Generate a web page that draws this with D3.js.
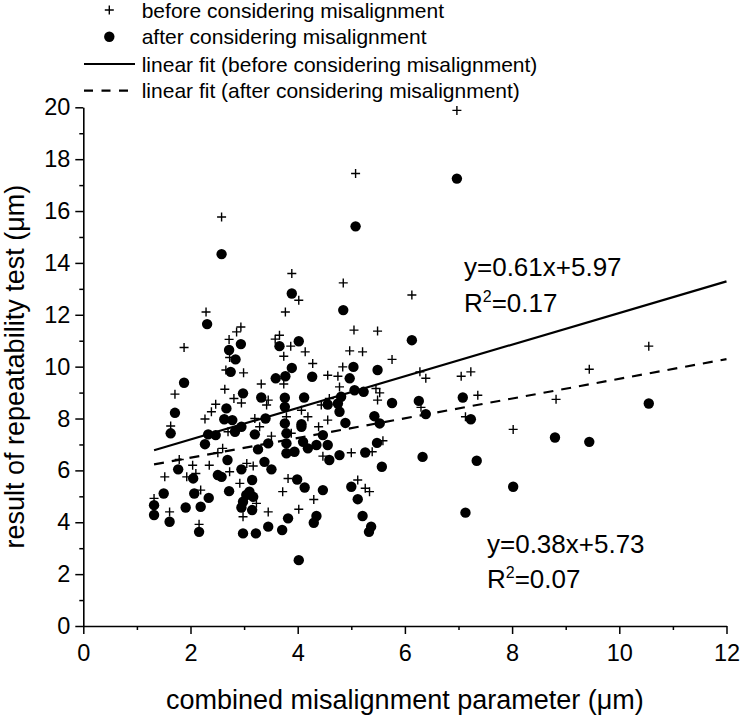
<!DOCTYPE html>
<html>
<head>
<meta charset="utf-8">
<script src="https://cdn.jsdelivr.net/npm/d3@7"></script>
<style>
  html, body { margin: 0; padding: 0; background: #fff; }
  svg { display: block; }
  text { font-family: "Liberation Sans", Arial, Helvetica, sans-serif; fill: #000; }
</style>
</head>
<body>
<svg id="chart" width="740" height="716"></svg>
<script>
// ---------- data ----------
const beforeX = [2.29,1.88,1.71,1.63,2.72,2.86,2.94,2.66,2.99,2.64,2.81,2.95,2.47,2.39,2.27,2.73,2.70,2.60,2.51,1.79,2.04,2.35,1.52,1.93,2.10,2.73,2.92,3.05,2.19,1.32,1.61,2.16,2.98,3.89,4.85,4.02,3.77,5.05,5.49,3.66,3.58,3.87,4.14,3.74,4.97,5.21,5.76,4.28,4.84,4.56,4.75,3.32,3.74,4.78,5.46,5.53,3.45,3.42,5.49,4.59,4.44,4.07,4.19,3.20,3.79,4.56,3.29,4.39,3.51,3.88,4.47,5.00,5.39,5.59,3.17,3.82,3.72,4.30,5.12,5.26,5.34,3.23,3.45,4.02,5.08,2.58,6.97,6.13,6.28,6.39,7.05,7.23,6.30,7.36,7.13,8.82,8.02,9.44,10.55];
const beforeY = [12.11,10.74,8.94,7.71,11.05,11.34,11.53,9.87,9.76,9.13,8.77,8.60,8.55,8.26,7.98,10.35,7.49,6.85,6.68,6.42,6.20,6.20,5.75,5.75,5.88,5.95,5.50,6.27,5.24,4.92,4.40,3.92,4.21,13.59,13.23,12.56,12.11,11.41,11.37,11.21,11.06,10.79,10.57,10.40,10.61,10.57,10.28,10.12,9.99,9.67,9.63,9.33,9.33,9.22,9.16,8.99,8.71,8.52,8.71,8.77,8.52,8.32,8.07,8.00,8.07,7.94,7.68,7.68,7.32,7.43,6.55,6.68,6.72,7.14,6.17,5.69,5.18,4.88,5.63,5.31,5.18,4.73,4.40,4.50,17.45,15.77,19.88,12.76,9.80,9.55,9.63,9.80,8.43,8.90,8.07,8.74,7.58,9.90,10.79];

const afterX = [2.31,1.88,1.71,1.63,2.94,2.72,2.84,2.75,2.98,2.67,2.63,2.78,2.33,2.47,2.83,2.95,2.27,2.69,1.77,2.05,2.51,2.58,2.95,1.50,2.07,2.34,2.72,1.32,1.32,1.61,1.91,2.19,2.16,2.98,2.95,2.98,3.04,3.89,4.85,4.02,3.66,3.89,3.59,3.77,4.27,5.04,4.97,5.49,5.06,5.23,4.81,3.32,3.76,4.12,4.56,4.75,4.78,3.76,5.76,5.43,5.53,3.40,3.76,4.07,4.89,3.20,3.79,4.07,4.47,3.45,3.79,3.79,4.10,4.35,4.56,3.26,3.94,4.19,4.59,4.78,5.26,5.48,5.57,3.38,3.51,3.15,3.99,4.13,4.47,5.00,5.12,3.10,3.17,3.15,4.35,4.30,3.82,5.21,5.37,5.33,3.45,3.71,3.22,4.02,5.08,2.58,6.97,6.13,6.26,6.39,7.08,7.23,8.80,6.33,7.34,8.02,7.13,9.44,10.55];
const afterY = [11.64,9.38,8.22,7.43,10.87,10.64,10.28,9.80,8.97,8.39,7.97,7.94,7.39,7.36,7.49,7.68,7.01,6.40,6.04,5.69,5.82,5.75,6.04,5.11,5.11,4.94,5.20,4.66,4.28,4.02,4.57,4.60,3.63,3.57,4.57,4.79,5.05,12.82,12.18,10.98,10.79,9.95,9.55,9.63,9.61,9.99,9.55,9.87,9.09,9.03,8.84,8.81,8.80,8.81,8.54,8.58,8.26,8.45,8.60,8.09,7.81,8.00,7.81,7.78,7.83,7.39,7.43,7.68,7.36,7.04,7.04,6.66,7.10,6.98,6.98,6.81,6.72,6.85,6.40,6.59,6.69,7.06,6.14,6.33,6.04,5.63,5.65,5.34,5.24,5.37,4.89,5.18,4.98,4.47,4.24,3.98,4.15,4.24,3.83,3.63,3.83,3.70,3.57,2.54,15.41,14.34,17.25,11.02,8.68,8.17,8.81,7.97,7.27,6.52,6.37,5.37,4.37,7.10,8.58];

const fitSlope = [0.61, 0.38];
const fitIntercept = [5.97, 5.73];
const fitR2 = ["0.17", "0.07"];
const fitXStart = 1.32;
const fitXEnd = 12;

const legendLabels = [
  "before considering misalignment",
  "after considering misalignment",
  "linear fit (before considering misalignment)",
  "linear fit (after considering misalignment)"
];
const xTicks = [0, 2, 4, 6, 8, 10, 12];
const yTicks = [0, 2, 4, 6, 8, 10, 12, 14, 16, 18, 20];
const xMinor = [1, 3, 5, 7, 9, 11];
const yMinor = [1, 3, 5, 7, 9, 11, 13, 15, 17, 19];
const xTitle = "combined misalignment parameter (\u03BCm)";
const yTitle = "result of repeatability test (\u03BCm)";

// ---------- layout ----------
const svg = d3.select("#chart");
const x = d3.scaleLinear().domain([0, 12]).range([83.3, 726.5]);
const y = d3.scaleLinear().domain([0, 20]).range([626, 107.3]);

const tickFont = 23.5;

// minor ticks
const xMinorAxis = d3.axisBottom(x).tickValues(xMinor).tickSize(4).tickFormat("").tickSizeOuter(0);
const yMinorAxis = d3.axisLeft(y).tickValues(yMinor).tickSize(4).tickFormat("").tickSizeOuter(0);
svg.append("g").attr("transform", `translate(0,${y(0)})`).call(xMinorAxis)
  .call(g => g.select(".domain").remove())
  .call(g => g.selectAll("line").attr("stroke", "#000").attr("stroke-width", 1.5));
svg.append("g").attr("transform", `translate(${x(0)},0)`).call(yMinorAxis)
  .call(g => g.select(".domain").remove())
  .call(g => g.selectAll("line").attr("stroke", "#000").attr("stroke-width", 1.5));

// major axes
const xAxis = d3.axisBottom(x).tickValues(xTicks).tickSize(8).tickPadding(10).tickSizeOuter(0).tickFormat(d3.format("d"));
const yAxis = d3.axisLeft(y).tickValues(yTicks).tickSize(8).tickPadding(5).tickSizeOuter(0).tickFormat(d3.format("d"));

svg.append("g").attr("transform", `translate(0,${y(0)})`).call(xAxis)
  .call(g => g.select(".domain").attr("stroke", "#000").attr("stroke-width", 1.6))
  .call(g => g.selectAll("line").attr("stroke", "#000").attr("stroke-width", 1.5))
  .call(g => g.selectAll("text").attr("font-size", tickFont).attr("font-family", "Liberation Sans, Arial, sans-serif").attr("fill", "#000"));

svg.append("g").attr("transform", `translate(${x(0)},0)`).call(yAxis)
  .call(g => g.select(".domain").attr("stroke", "#000").attr("stroke-width", 1.6))
  .call(g => g.selectAll("line").attr("stroke", "#000").attr("stroke-width", 1.5))
  .call(g => g.selectAll("text").attr("font-size", tickFont).attr("font-family", "Liberation Sans, Arial, sans-serif").attr("fill", "#000"));

// axis titles
svg.append("text")
  .attr("x", (x(0) + x(12)) / 2).attr("y", 709)
  .attr("text-anchor", "middle").attr("font-size", 27)
  .text(xTitle);
svg.append("text")
  .attr("transform", `translate(24,${(y(0) + y(20)) / 2}) rotate(-90)`)
  .attr("text-anchor", "middle").attr("font-size", 27)
  .text(yTitle);

// fit lines
const lineGen = d3.line().x(d => x(d[0])).y(d => y(d[1]));
fitSlope.forEach((m, i) => {
  const b = fitIntercept[i];
  const pts = [[fitXStart, m * fitXStart + b], [fitXEnd, m * fitXEnd + b]];
  svg.append("path")
    .attr("d", lineGen(pts))
    .attr("fill", "none").attr("stroke", "#000").attr("stroke-width", 2.2)
    .attr("stroke-dasharray", i === 0 ? null : "10,8");
});

// scatter: crosses (before)
const crossPath = "M-4.5,0H4.5M0,-4.5V4.5";
svg.append("g").selectAll("path")
  .data(beforeX.map((v, i) => [v, beforeY[i]]))
  .join("path")
  .attr("transform", d => `translate(${x(d[0])},${y(d[1])})`)
  .attr("d", crossPath)
  .attr("stroke", "#000").attr("stroke-width", 1.4).attr("fill", "none");

// scatter: dots (after)
svg.append("g").selectAll("circle")
  .data(afterX.map((v, i) => [v, afterY[i]]))
  .join("circle")
  .attr("cx", d => x(d[0])).attr("cy", d => y(d[1]))
  .attr("r", 5.2).attr("fill", "#000");

// annotations
const annFont = 26;
function eqText(xp, yp, m, b) {
  svg.append("text").attr("x", xp).attr("y", yp).attr("font-size", annFont)
    .text(`y=${m.toFixed(2)}x+${b.toFixed(2)}`);
}
function r2Text(xp, yp, r) {
  const t = svg.append("text").attr("x", xp).attr("y", yp).attr("font-size", annFont);
  t.append("tspan").text("R");
  t.append("tspan").attr("font-size", 16).attr("dy", -10).text("2");
  t.append("tspan").attr("dy", 10).text("=" + r);
}
eqText(464, 276, fitSlope[0], fitIntercept[0]);
r2Text(464, 312, fitR2[0]);
eqText(487, 553, fitSlope[1], fitIntercept[1]);
r2Text(487, 588, fitR2[1]);

// legend
const legY = [10, 36.7, 64, 90.7];
const legMarkX = 109.3;
const legTextX = 141.7;
const leg = svg.append("g");
leg.append("path").attr("transform", `translate(${legMarkX},${legY[0]})`).attr("d", crossPath)
  .attr("stroke", "#000").attr("stroke-width", 1.4);
leg.append("circle").attr("cx", legMarkX).attr("cy", legY[1]).attr("r", 5.2).attr("fill", "#000");
leg.append("line").attr("x1", 84).attr("x2", 135).attr("y1", legY[2]).attr("y2", legY[2])
  .attr("stroke", "#000").attr("stroke-width", 2.2);
leg.append("line").attr("x1", 84).attr("x2", 136).attr("y1", legY[3]).attr("y2", legY[3])
  .attr("stroke", "#000").attr("stroke-width", 2.2).attr("stroke-dasharray", "9,8.5");
legendLabels.forEach((lab, i) => {
  leg.append("text").attr("x", legTextX).attr("y", legY[i] + 7.5)
    .attr("font-size", 21).text(lab);
});
</script>
</body>
</html>
